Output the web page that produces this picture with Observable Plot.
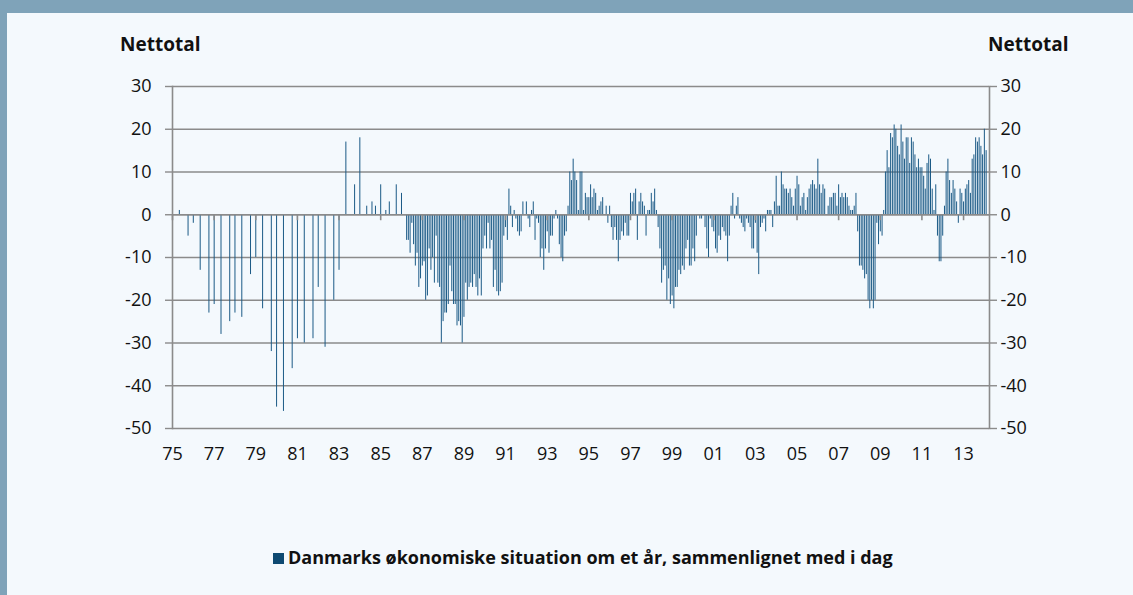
<!DOCTYPE html>
<html>
<head>
<meta charset="utf-8">
<script src="https://cdn.jsdelivr.net/npm/d3@7"></script>
<script src="https://cdn.jsdelivr.net/npm/@observablehq/plot@0.6"></script>
<style>
  html, body { margin: 0; padding: 0; background: #f4f9fd; }
  #wrap { position: relative; width: 1133px; height: 595px; overflow: hidden; background: #f4f9fd; font-family: "Open Sans", sans-serif; }
  .band { position: absolute; left: 0; top: 0; width: 1133px; height: 13px; background: #7fa3b9; }
  .stripe { position: absolute; left: 0; top: 0; width: 7px; height: 595px; background: #7fa3b9; }
  .unit { position: absolute; top: 31px; font-family: "Open Sans", sans-serif; font-weight: 700; font-size: 19px; color: #111; }
  #chart { position: absolute; left: 0; top: 0; }
  #legend { position: absolute; left: 273px; top: 545px; white-space: nowrap; font-family: "Open Sans", sans-serif; font-weight: 700; font-size: 18px; color: #111; }
  #legend .sw { display: inline-block; width: 11px; height: 11px; background: #0e4a72; margin-right: 4px; vertical-align: 0px; }
</style>
</head>
<body>
<div id="wrap">
  <div class="band"></div>
  <div class="stripe"></div>
  <div class="unit" style="left:120px">Nettotal</div>
  <div class="unit" style="left:988px">Nettotal</div>
  <div id="chart"></div>
  <div id="legend"><span class="sw"></span><span id="legendText"></span></div>
</div>
<script>
// Survey rounds (three times a year) 1975 - Jan 1986
const earlyDates = ["1975-05","1975-10","1976-01","1976-05","1976-10","1977-01","1977-05","1977-10",
  "1978-01","1978-05","1978-10","1979-01","1979-05","1979-10","1980-01","1980-05","1980-10",
  "1981-01","1981-05","1981-10","1982-01","1982-05","1982-10","1983-01","1983-05","1983-10",
  "1984-01","1984-05","1984-08","1984-10","1985-01","1985-04","1985-06","1985-10","1986-01"];
const earlyValues = [1,-5,-2,-13,-23,-21,-28,-25,-23,-24,-14,-10,-22,-32,-45,-46,-36,
  -29,-30,-29,-17,-31,-20,-13,17,7,18,2,3,2,7,1,3,7,5];

// Monthly survey from April 1986
const monthlyStart = "1986-04";
const monthly1986to1994 = [
  -6,-6,-9,-2,-7,-12,-9,-17,-15,
  -12,-11,-20,-19,-8,-13,-10,-16,-5,-16,-17,-30,
  -25,-23,-23,-21,-12,-18,-21,-21,-26,-25,-26,-30,
  -24,-16,-20,-17,-16,-17,-14,-17,-19,-15,-19,-8,
  -5,-8,-2,-8,-6,-17,-13,-18,-19,-18,-16,-5,
  -3,-6,6,2,-3,1,-1,-4,-5,-4,3,0,
  3,-1,-3,1,3,-6,-1,-2,-10,-8,-13,-8,
  -4,-9,-5,-5,-1,1,-1,-7,-10,-11,-5,-4,
  2,10,8,13,10,8,1,10,10,1,5,4
];
const monthly1995to2004 = [
  4,7,4,6,5,1,2,3,4,0,2,-2,
  2,-3,-6,-3,-6,-11,-6,-4,-5,-2,-5,-5,
  5,3,5,6,-6,3,5,3,2,-5,1,1,
  5,3,6,1,-3,-8,-16,-13,-12,-20,-15,-21,
  -19,-22,-17,-17,-13,-14,-12,-13,-8,-6,-12,-12,
  -8,-11,-5,0,-1,-1,0,-3,-8,-10,-1,-3,
  -4,-8,-9,-5,-6,-3,-4,-5,-11,-5,2,5,
  -1,2,4,-1,-2,-3,-4,-1,-2,-3,-8,-8,
  -2,-9,-14,-3,-2,-1,-4,1,1,1,-3,3,
  9,2,2,10,7,6,6,5,6,4,2,6
];
const monthly2005to2014 = [
  9,7,2,4,5,1,4,6,7,8,7,6,
  13,7,5,7,6,0,2,4,4,5,5,2,
  7,4,5,4,5,4,2,1,1,2,5,-4,
  -12,-12,-13,-15,-14,-20,-22,-20,-22,-20,-2,-7,
  -4,-5,1,10,15,11,19,18,21,20,16,14,
  21,17,13,18,18,12,18,17,14,11,13,11,
  11,9,6,12,14,13,6,1,7,-5,-11,-11,
  -5,2,10,13,8,5,8,6,3,-2,6,5,
  3,6,7,8,5,13,14,18,17,18,16,14,
  20,15
];

const yTicks = [-50,-40,-30,-20,-10,0,10,20,30];
const xTickYears = [1975,1977,1979,1981,1983,1985,1987,1989,1991,1993,1995,1997,1999,2001,2003,2005,2007,2009,2011,2013];
const axisStart = "1975-01";
const axisEnd = "2014-04";
const seriesName = "Danmarks økonomiske situation om et år, sammenlignet med i dag";

const parseMonth = s => { const [y, m] = s.split("-").map(Number); return new Date(Date.UTC(y, m - 1, 1)); };

const data = earlyDates.map((d, i) => ({date: parseMonth(d), value: earlyValues[i]}));
const start = parseMonth(monthlyStart);
[...monthly1986to1994, ...monthly1995to2004, ...monthly2005to2014].forEach((v, i) => {
  data.push({date: new Date(Date.UTC(start.getUTCFullYear(), start.getUTCMonth() + i, 1)), value: v});
});
const xTickDates = xTickYears.map(y => new Date(Date.UTC(y, 0, 1)));

const grey = "#8b8b8b";
const chart = Plot.plot({
  width: 1133,
  height: 475,
  marginLeft: 172,
  marginRight: 144,
  marginTop: 86,
  marginBottom: 47,
  style: {background: "transparent", fontFamily: "'Open Sans', sans-serif", color: "#111"},
  x: {type: "utc", domain: [parseMonth(axisStart), parseMonth(axisEnd)]},
  y: {domain: [-50, 30]},
  marks: [
    Plot.ruleY(yTicks, {stroke: grey, strokeWidth: 1.4}),
    Plot.axisY(yTicks, {anchor: "left", label: null, tickSize: 7, tickPadding: 14, stroke: grey, strokeWidth: 1.4, fill: "#111", fontSize: 18, tickFormat: d => String(d)}),
    Plot.axisY(yTicks, {anchor: "right", label: null, tickSize: 7, tickPadding: 4, stroke: grey, strokeWidth: 1.4, fill: "#111", fontSize: 18, tickFormat: d => String(d)}),
    Plot.axisX(xTickDates, {anchor: "bottom", label: null, tickSize: 0, tickPadding: 19, fill: "#111", fontSize: 18,
      tickFormat: d => String(d.getUTCFullYear()).slice(2)}),
    Plot.ruleX(data, {x: "date", y1: 0, y2: "value", stroke: "#1b5a86", strokeWidth: 1}),
    Plot.ruleY([0], {stroke: grey, strokeWidth: 1.4}),
    Plot.ruleX(xTickDates, {x: d => d, y1: 0, y2: -1.4, stroke: grey, strokeWidth: 1.6}),
    Plot.frame({anchor: "left", stroke: grey, strokeWidth: 1.6}),
    Plot.frame({anchor: "right", stroke: grey, strokeWidth: 1.6})
  ]
});
document.getElementById("chart").appendChild(chart);
document.getElementById("legendText").textContent = seriesName;
</script>
</body>
</html>
